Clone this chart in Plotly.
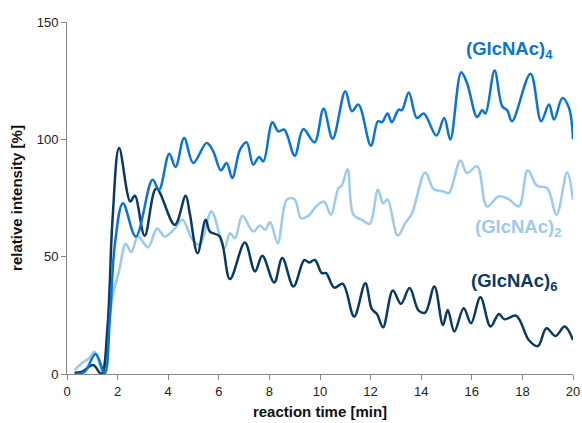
import plotly.graph_objects as go

# (GlcNAc)6 - dark
t6 = [0.3, 0.6, 1.03, 1.36, 1.6, 1.8, 2.06, 2.5, 2.68, 3.07, 3.53, 4.26, 4.69, 4.85, 5.16, 5.48, 5.65,
      6.04, 6.44, 7.03, 7.43, 7.72, 8.19, 8.51, 8.95, 9.38, 9.57, 9.8, 10.07, 10.24, 10.56, 10.9,
      11.35, 11.79, 12.05, 12.25, 12.49, 12.88, 13.2, 13.54, 13.9, 14.16, 14.52, 14.86, 15.05, 15.31,
      15.68, 15.97, 16.34, 16.74, 17.07, 17.29, 17.76, 18.25, 18.61, 18.95, 19.31, 19.67, 20.0]
v6 = [0.5, 1, 3.8, 0, 20, 66, 96.3, 73.5, 76, 58.9, 79, 63.6, 76, 68.6, 51.5, 65.7, 60.7,
      58.6, 40.5, 56, 43.7, 50.4, 39, 49.4, 37.3, 48.6, 47.5, 48.6, 43, 43, 36.8, 38.4,
      24.5, 38.7, 27.6, 25.6, 19.9, 35.6, 29.9, 36.6, 27, 26.2, 37.3, 20.9, 27.3, 18.1,
      28, 21.6, 32.7, 20.2, 25.6, 23.3, 24.8, 14.5, 11.9, 19.5, 16.2, 20.2, 14.5]

# (GlcNAc)4 - medium
t4 = [0.3, 0.7, 1.13, 1.49, 1.7, 1.9, 2.21, 2.72, 3.38, 3.64, 4.04, 4.29, 4.63, 4.99, 5.52, 5.78,
      6.08, 6.31, 6.53, 6.84, 7.1, 7.36, 7.59, 7.76, 8.12, 8.35, 8.59, 9.0, 9.34, 9.78, 10.14,
      10.5, 11.0, 11.26, 11.52, 12.01, 12.29, 12.45, 12.67, 12.84, 13.11, 13.24, 13.51, 13.83,
      14.1, 14.6, 14.91, 15.15, 15.58, 15.81, 16.21, 16.41, 16.54, 16.9, 17.2, 17.4, 17.59,
      18.32, 18.74, 19.05, 19.25, 19.58, 19.84, 20.0]
v4 = [0, 1, 8.5, 0.3, 25, 56, 72.8, 58.6, 82.8, 78.5, 93.9, 88.2, 100.6, 89.9, 98.4, 94.9,
      86.8, 89.9, 83.5, 95.6, 98.7, 89.2, 92.5, 90.6, 107.3, 103.4, 104.1, 93, 104.4, 98.7, 113,
      100.3, 120.5, 112, 114.8, 97.3, 107.7, 107.3, 111, 107.3, 112.7, 112.4, 120, 109.1,
      111, 101.6, 109.1, 99.9, 128.6, 124, 109.5, 112.4, 111, 129.3, 114.1, 112.4, 107.7,
      128, 107.7, 114.8, 108.4, 117.6, 113.4, 100]

# (GlcNAc)2 - light
t2 = [0.3, 0.63, 0.85, 1.09, 1.42, 1.6, 1.82, 2.06, 2.32, 2.54, 2.81, 3.2, 3.56, 3.86, 4.26, 4.56,
      4.96, 5.25, 5.71, 6.22, 6.44, 6.64, 6.93, 7.36, 7.63, 7.83, 8.03, 8.33, 8.69, 8.99, 9.25,
      9.54, 9.87, 10.16, 10.43, 10.73, 10.86, 11.09, 11.32, 11.65, 11.96, 12.29, 12.49, 12.67,
      13.07, 13.37, 13.63, 14.16, 14.49, 14.89, 15.09, 15.55, 15.81, 16.21, 16.6, 17.06, 17.46,
      17.86, 18.21, 18.58, 18.98, 19.35, 19.77, 20.0]
v2 = [1.7, 5, 6.5, 9.5, 0.3, 15, 34, 44, 55.5, 52, 58.6, 54, 62, 58.6, 62, 65.7,
      57.2, 55, 69.3, 53.6, 60, 57.9, 67.4, 60.7, 63.3, 61.5, 64.7, 55.8, 74.3, 74.5, 66.4,
      67.4, 71.7, 73.5, 67.9, 79.2, 80.2, 87.3, 67.9, 65.7, 64, 78.5, 72.8, 74.3,
      59, 64.3, 68.3, 85.9, 78.8, 77.8, 77.1, 91, 85.6, 88.5, 71.4, 75.7, 74.5,
      71.4, 86.8, 80.2, 79.2, 67.9, 85.9, 74.3]

x_ticks = [0, 2, 4, 6, 8, 10, 12, 14, 16, 18, 20]
y_ticks = [0, 50, 100, 150]

C6 = "#0a3a62"
C4 = "#0b74cf"
C2 = "#9bcaee"

fig = go.Figure()
for t, v, c, name in [(t2, v2, C2, "(GlcNAc)2"), (t6, v6, C6, "(GlcNAc)6"), (t4, v4, C4, "(GlcNAc)4")]:
    fig.add_trace(go.Scatter(x=t, y=v, mode="lines", name=name,
                             line=dict(color=c, width=2.5, shape="spline", smoothing=1.0)))

ML, MR, MT, MB = 67, 9, 22, 49
W, H = 582, 423
pw, ph = W - ML - MR, H - MT - MB


def paper(px, py):
    return (px - ML) / pw, 1 - (py - MT) / ph


font_lbl = "Liberation Sans, Arial, sans-serif"
labels = [((509, 50), "<b>(GlcNAc)<sub>4</sub></b>", C4),
          ((518, 228), "<b>(GlcNAc)<sub>2</sub></b>", C2),
          ((514, 282), "<b>(GlcNAc)<sub>6</sub></b>", C6)]
ann = []
for (px, py), txt, c in labels:
    x, y = paper(px, py)
    ann.append(dict(x=x, y=y, xref="paper", yref="paper", text=txt, showarrow=False,
                    xanchor="center", yanchor="middle", font=dict(size=18.5, color=c)))

fig.update_layout(
    width=W, height=H,
    margin=dict(l=ML, r=MR, t=MT, b=MB),
    plot_bgcolor="white", paper_bgcolor="white",
    showlegend=False,
    font=dict(family=font_lbl, size=13, color="#222"),
    xaxis=dict(range=[0, 20], tickvals=x_ticks, showgrid=False, zeroline=False,
               showline=True, linecolor="#888", linewidth=1, ticks="outside", ticklen=5,
               tickcolor="#888", automargin=False,
               title=dict(text="<b>reaction time [min]</b>", font=dict(size=15, color="#111"), standoff=8)),
    yaxis=dict(range=[0, 150], tickvals=y_ticks, showgrid=False, zeroline=False,
               showline=True, linecolor="#888", linewidth=1, ticks="outside", ticklen=5,
               tickcolor="#888", automargin=False,
               title=dict(text="<b>relative intensity [%]</b>", font=dict(size=15, color="#111"), standoff=10)),
    annotations=ann,
)

fig.write_html("out.html", config={"displayModeBar": False},
               post_script="document.body.style.margin='0';")
